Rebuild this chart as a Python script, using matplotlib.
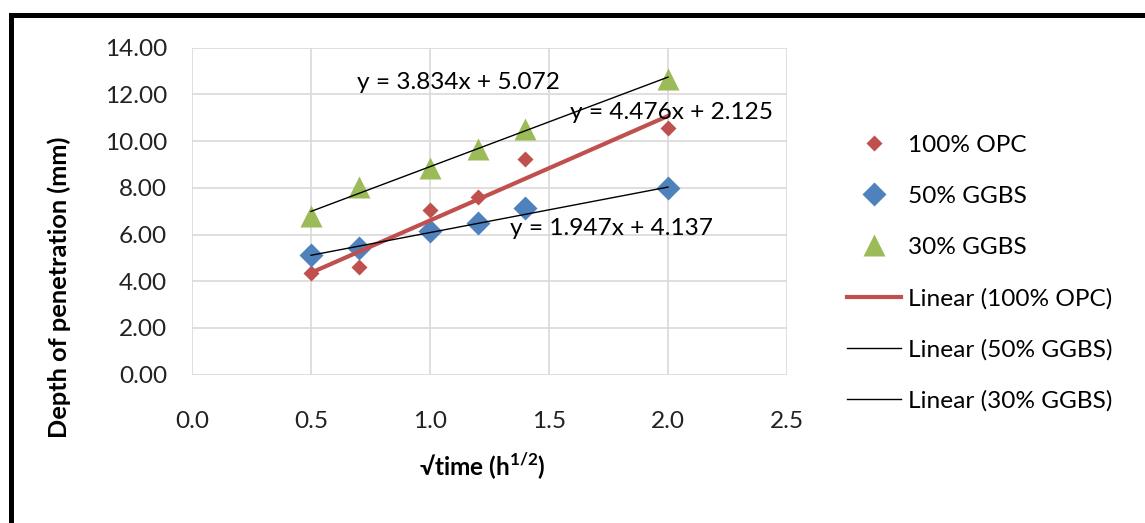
import numpy as np
import matplotlib
matplotlib.use("Agg")
import matplotlib.pyplot as plt
from matplotlib.lines import Line2D

plt.rcParams['font.family'] = ['Lato', 'DejaVu Sans']
plt.rcParams['mathtext.fontset'] = 'custom'
plt.rcParams['mathtext.rm'] = 'Lato'
plt.rcParams['mathtext.bf'] = 'Lato:bold'

# data
x = [0.5, 0.7, 1.0, 1.2, 1.4, 2.0]
opc100 = [4.34, 4.60, 7.05, 7.62, 9.22, 10.55]
ggbs50 = [5.12, 5.41, 6.15, 6.50, 7.12, 7.98]
ggbs30 = [6.80, 8.05, 8.85, 9.66, 10.50, 12.65]

# trendline coefficients as printed
fit_opc = (4.476, 2.125)
fit_50 = (1.947, 4.137)
fit_30 = (3.834, 5.072)

xticks = [0.0, 0.5, 1.0, 1.5, 2.0, 2.5]
yticks = [0, 2, 4, 6, 8, 10, 12, 14]

red = '#C0504D'
blue = '#4F81BD'
green = '#9BBB59'
fs = 17.6

fig = plt.figure(figsize=(11.45, 5.23), dpi=100)
ax = fig.add_axes([0.1677, 0.2837, 0.5196, 0.6251])

xl = np.array([min(x), max(x)])
ax.plot(x, opc100, 'D', color=red, ms=8, mec='none', label='100% OPC', zorder=3)
ax.plot(x, ggbs50, 'D', color=blue, ms=12, mec='none', label='50% GGBS', zorder=3)
ax.plot(x, ggbs30, '^', color=green, ms=16, mec='none', label='30% GGBS', zorder=3)
ax.plot(xl, fit_opc[0]*xl + fit_opc[1], color=red, lw=3, label='Linear (100% OPC)', zorder=4)
ax.plot(xl, fit_50[0]*xl + fit_50[1], color='black', lw=1, label='Linear (50% GGBS)', zorder=4)
ax.plot(xl, fit_30[0]*xl + fit_30[1], color='black', lw=1, label='Linear (30% GGBS)', zorder=4)

ax.text(0.693, 12.49, 'y = 3.834x + 5.072', fontsize=fs, va='center', ha='left', zorder=5)
ax.text(1.588, 11.24, 'y = 4.476x + 2.125', fontsize=fs, va='center', ha='left', zorder=5)
ax.text(1.336, 6.27, 'y = 1.947x + 4.137', fontsize=fs, va='center', ha='left', zorder=5)

ax.set_xlim(0, 2.5)
ax.set_ylim(0, 14)
ax.set_xticks(xticks)
ax.set_yticks(yticks)
ax.set_xticklabels(['%.1f' % v for v in xticks])
ax.set_yticklabels(['%.2f' % v for v in yticks])
ax.tick_params(length=0, labelsize=fs, colors='#222222')
ax.tick_params(axis='x', pad=26)
ax.tick_params(axis='y', pad=18)
for s in ax.spines.values():
    s.set_visible(False)
ax.grid(True, color='#d9d9d9', lw=1.2)
ax.set_axisbelow(True)

fig.text(482/1145, 1 - 466/523, '√time (h$^{\\mathbf{1/2}}$)', fontsize=fs,
         fontweight='bold', ha='center', va='center')
fig.text(59/1145, 1 - 287/523, 'Depth of penetration (mm)', fontsize=18.3,
         fontweight='bold', ha='center', va='center', rotation=90)

fig.legend(loc='upper left', bbox_to_anchor=(0.7315, 0.761), frameon=False,
           fontsize=fs, labelspacing=1.22, handlelength=2.2, handletextpad=0.3,
           borderaxespad=0)

# thick frame at top and left
fig.add_artist(Line2D([0.0096, 1.0], [0.9704, 0.9704], color='black', lw=3.6))
fig.add_artist(Line2D([0.0096, 0.0096], [0.0, 0.9704], color='black', lw=3.6))

fig.savefig('out.png', dpi=100)
